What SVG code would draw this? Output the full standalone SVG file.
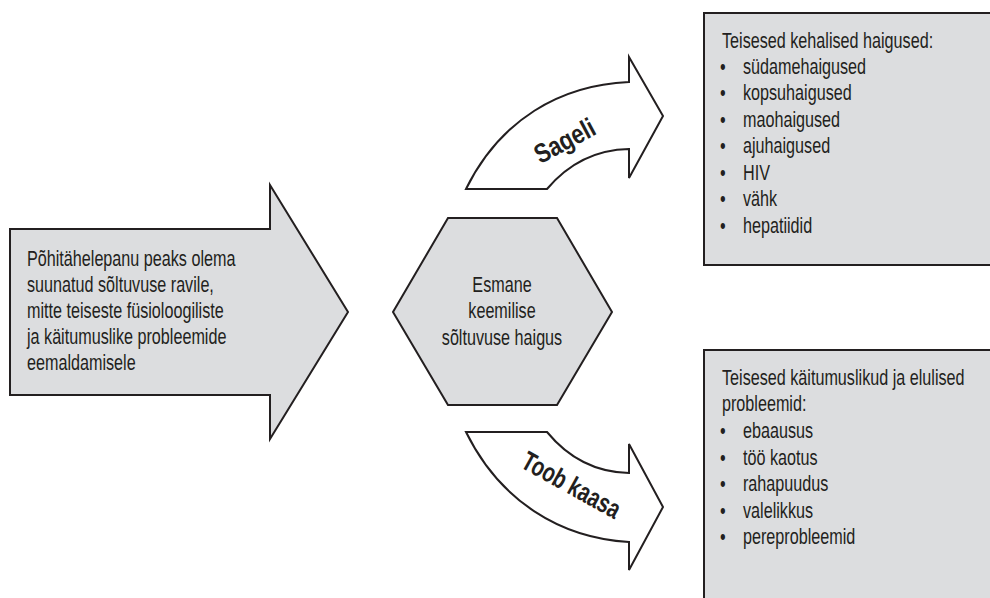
<svg xmlns="http://www.w3.org/2000/svg" width="990" height="598" viewBox="0 0 990 598">
<style>
.shape{fill:#dcdddf;stroke:#231f20;stroke-width:2;stroke-linejoin:miter}
.arrow{fill:#ffffff;stroke:#231f20;stroke-width:2;stroke-linejoin:miter}
.t{font-family:"Liberation Sans",Arial,sans-serif;font-size:22px;fill:#231f20}
.c{text-anchor:middle}
.b{font-family:"Liberation Sans",Arial,sans-serif;font-weight:bold;font-size:27px;fill:#231f20;text-anchor:middle}
</style>
<rect width="990" height="598" fill="#ffffff"/>
<g id="main-arrow">
<path class="shape" d="M10,229 L270,229 L270,185 L348,312 L270,439 L270,395 L10,395 Z"/>
<g transform="scale(0.735,1)">
<text class="t" x="36.73" y="266">Põhitähelepanu peaks olema</text>
<text class="t" x="36.73" y="292">suunatud sõltuvuse ravile,</text>
<text class="t" x="36.73" y="318">mitte teiseste füsioloogiliste</text>
<text class="t" x="36.73" y="344">ja käitumuslike probleemide</text>
<text class="t" x="36.73" y="370">eemaldamisele</text>
</g>
</g>
<g id="hexagon">
<path class="shape" d="M448,218 L557,218 L612,312 L557,405 L448,405 L393,312 Z"/>
<g transform="scale(0.735,1)">
<text class="t c" x="683" y="292">Esmane</text>
<text class="t c" x="683" y="318">keemilise</text>
<text class="t c" x="683" y="345">sõltuvuse haigus</text>
</g>
</g>
<g id="box-physical">
<rect class="shape" x="704" y="13" width="300" height="252"/>
<g transform="scale(0.735,1)">
<text class="t" x="982.31" y="48">Teisesed kehalised haigused:</text>
<text class="t" y="74"><tspan x="979.59">•</tspan><tspan x="1010.88">südamehaigused</tspan></text>
<text class="t" y="100"><tspan x="979.59">•</tspan><tspan x="1010.88">kopsuhaigused</tspan></text>
<text class="t" y="127"><tspan x="979.59">•</tspan><tspan x="1010.88">maohaigused</tspan></text>
<text class="t" y="153"><tspan x="979.59">•</tspan><tspan x="1010.88">ajuhaigused</tspan></text>
<text class="t" y="180"><tspan x="979.59">•</tspan><tspan x="1010.88">HIV</tspan></text>
<text class="t" y="206"><tspan x="979.59">•</tspan><tspan x="1010.88">vähk</tspan></text>
<text class="t" y="233"><tspan x="979.59">•</tspan><tspan x="1010.88">hepatiidid</tspan></text>
</g>
</g>
<g id="box-behavioral">
<rect class="shape" x="704" y="350" width="300" height="270"/>
<g transform="scale(0.735,1)">
<text class="t" x="982.31" y="385">Teisesed käitumuslikud ja elulised</text>
<text class="t" x="982.31" y="411">probleemid:</text>
<text class="t" y="438"><tspan x="979.59">•</tspan><tspan x="1010.88">ebaausus</tspan></text>
<text class="t" y="465"><tspan x="979.59">•</tspan><tspan x="1010.88">töö kaotus</tspan></text>
<text class="t" y="491"><tspan x="979.59">•</tspan><tspan x="1010.88">rahapuudus</tspan></text>
<text class="t" y="518"><tspan x="979.59">•</tspan><tspan x="1010.88">valelikkus</tspan></text>
<text class="t" y="544"><tspan x="979.59">•</tspan><tspan x="1010.88">pereprobleemid</tspan></text>
</g>
</g>
<g id="connectors">
<g id="arrow-sageli">
<path class="arrow" d="M466,189 C500,120 560,85 629,82 L629,57 L663,116 L629,178 L629,149 Q580,150 547,189 Z"/>
<text class="b" transform="translate(569,149) rotate(-28) scale(0.82,1)">Sageli</text>
</g>
<g id="arrow-toob-kaasa">
<path class="arrow" d="M466,432 C500,501 560,538 629,542 L629,570 L663,507 L629,444 L629,473 Q580,472 547,432 Z"/>
<text class="b" transform="translate(567,493) rotate(29) scale(0.74,1)">Toob kaasa</text>
</g>
</g>
</svg>
